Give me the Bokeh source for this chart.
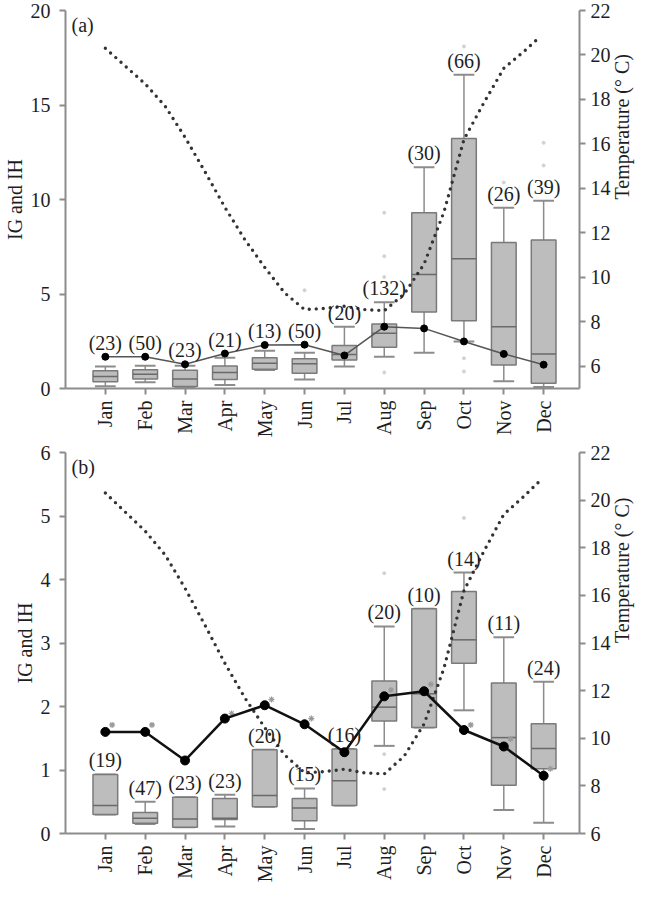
import numpy as np
from bokeh.plotting import figure
from bokeh.models import ColumnDataSource, Range1d, LinearAxis, FixedTicker, Label, LabelSet
from bokeh.transform import dodge
from bokeh.layouts import column
from bokeh.embed import file_html
from bokeh.resources import INLINE
from bokeh.core.properties import value

# ---------------- data ----------------
months = ["Jan", "Feb", "Mar", "Apr", "May", "Jun", "Jul", "Aug", "Sep", "Oct", "Nov", "Dec"]
month_pos = [1, 2, 3, 4, 5, 6, 7, 8, 9, 10, 11, 12]

# temperature (right axis), read at month and mid-month positions
temp_x = [1, 1.5, 2, 2.5, 3, 3.5, 4, 4.5, 5, 5.5, 6, 6.5, 7, 7.5, 8, 8.5, 9, 9.5, 10, 10.5, 11, 11.5, 11.9]
temp_c = [20.3, 19.5, 18.7, 17.7, 16.3, 14.75, 13.15, 11.7, 10.45, 9.3, 8.55, 8.6, 8.7, 8.55, 8.5, 9.25, 10.6, 12.95, 16.2, 17.85, 19.4, 20.15, 20.8]

# panel (a)
a_lo = [0.12, 0.33, 0.03, 0.19, 0.98, 0.47, 1.16, 1.68, 1.89, 2.49, 0.38, 0.08]
a_q1 = [0.36, 0.50, 0.10, 0.47, 1.02, 0.81, 1.51, 2.18, 4.05, 3.58, 1.25, 0.28]
a_med = [0.64, 0.76, 0.50, 0.85, 1.33, 1.31, 1.80, 2.92, 6.03, 6.87, 3.27, 1.83]
a_q3 = [0.94, 0.99, 0.97, 1.19, 1.63, 1.57, 2.27, 3.41, 9.30, 13.23, 7.72, 7.86]
a_hi = [1.16, 1.20, 1.20, 1.63, 2.00, 1.89, 3.27, 4.57, 11.70, 16.60, 9.56, 9.94]
a_mean = [1.68, 1.68, 1.28, 1.85, 2.30, 2.32, 1.75, 3.27, 3.18, 2.49, 1.83, 1.26]
a_n = [23, 50, 23, 21, 13, 50, 20, 132, 30, 66, 26, 39]
a_out_m = [6, 8, 8, 8, 8, 10, 10, 10, 11, 12, 12]
a_out_v = [5.2, 9.3, 7.0, 5.9, 0.85, 18.1, 1.6, 0.9, 10.9, 13.0, 11.8]

# panel (b)
b_lo = [0.30, 0.15, 0.10, 0.11, 0.42, 0.07, 0.44, 1.38, 1.67, 1.94, 0.37, 0.17]
b_q1 = [0.30, 0.16, 0.10, 0.22, 0.42, 0.20, 0.44, 1.77, 1.67, 2.68, 0.76, 1.02]
b_med = [0.44, 0.24, 0.23, 0.24, 0.60, 0.40, 0.83, 1.99, 2.20, 3.05, 1.51, 1.34]
b_q3 = [0.93, 0.33, 0.57, 0.55, 1.32, 0.55, 1.33, 2.40, 3.54, 3.81, 2.37, 1.73]
b_hi = [0.93, 0.50, 0.57, 0.61, 1.32, 0.71, 1.33, 3.26, 3.54, 4.11, 3.09, 2.39]
b_mean = [1.60, 1.60, 1.15, 1.81, 2.02, 1.72, 1.28, 2.16, 2.24, 1.63, 1.37, 0.91]
b_star = [1.71, 1.71, np.nan, 1.89, 2.11, 1.81, np.nan, 2.26, 2.35, 1.71, 1.49, 1.02]
b_n = [19, 47, 23, 23, 20, 15, 16, 20, 10, 14, 11, 24]
b_out_m = [8, 8, 8, 10]
b_out_v = [4.1, 1.25, 0.7, 4.97]

left_title = "IG and IH"
temp_title = "Temperature (° C)"

# ---------------- style ----------------
FONT = "Liberation Serif"
FS = "20px"
AX = "#8c8c8c"
TXT = "#1e1e1e"
BL, FW, BR = 62, 522, 62
W = BL + FW + BR


def style_axis(ax):
    ax.axis_line_color = AX
    ax.axis_line_width = 2
    ax.major_tick_line_color = AX
    ax.major_tick_line_width = 2
    ax.major_tick_out = 6
    ax.major_tick_in = 0
    ax.minor_tick_line_color = None
    ax.major_label_text_font = FONT
    ax.major_label_text_font_size = FS
    ax.major_label_text_color = TXT
    ax.axis_label_text_font = FONT
    ax.axis_label_text_font_size = FS
    ax.axis_label_text_font_style = "normal"
    ax.axis_label_text_color = TXT


def make_panel(tag, H, top, bottom, yr, yticks, tr, tticks,
               lo, q1, med, q3, hi, mean, n, out_m, out_v,
               mean_style, label_over_mean, star=None):
    fh = H - top - bottom
    p = figure(width=W, height=H, x_range=Range1d(0, 12.9), y_range=Range1d(*yr),
               output_backend="svg", toolbar_location=None,
               min_border_left=BL, min_border_right=BR,
               min_border_top=top, min_border_bottom=bottom)
    p.outline_line_color = None
    p.xgrid.grid_line_color = None
    p.ygrid.grid_line_color = None

    lax = p.left[0]
    lax.ticker = FixedTicker(ticks=yticks)
    lax.major_label_standoff = 9
    lax.axis_label = left_title
    lax.axis_label_standoff = 2

    p.extra_y_ranges = {"temp": Range1d(*tr)}
    rax = LinearAxis(y_range_name="temp", ticker=FixedTicker(ticks=tticks),
                     axis_label=temp_title)
    p.add_layout(rax, "right")
    rax.axis_label_standoff = 8
    rax.axis_label_orientation = np.pi / 2
    rax.major_label_standoff = 5

    xax = p.below[0]
    xax.ticker = FixedTicker(ticks=month_pos)
    xax.major_label_overrides = {m: s for m, s in zip(month_pos, months)}
    xax.major_label_orientation = np.pi / 2
    xax.major_label_standoff = 6
    for ax in [xax, lax, rax]:
        style_axis(ax)

    lab_base = np.maximum(hi, mean) if label_over_mean else np.array(hi)
    src = ColumnDataSource(dict(m=month_pos, lo=lo, q1=q1, med=med, q3=q3, hi=hi,
                                mean=mean, lab=lab_base,
                                ntxt=["(%d)" % v for v in n]))

    # outliers
    p.scatter(out_m, out_v, size=3, color="#d2d2d2")
    # whiskers and caps
    p.segment(x0="m", y0="lo", x1="m", y1="hi", source=src, line_color=AX, line_width=1.5)
    for col in ["lo", "hi"]:
        p.segment(x0=dodge("m", -0.26), y0=col, x1=dodge("m", 0.26), y1=col,
                  source=src, line_color=AX, line_width=2)
    # boxes
    p.vbar(x="m", width=0.62, bottom="q1", top="q3", source=src,
           fill_color="#bdbdbd", line_color="#7a7a7a", line_width=1.5)
    p.segment(x0=dodge("m", -0.31), y0="med", x1=dodge("m", 0.31), y1="med",
              source=src, line_color="#6a6a6a", line_width=1.5)

    # temperature dotted curve
    p.line(temp_x, temp_c, y_range_name="temp", line_color="#333333",
           line_width=3.4, line_dash="0 7", line_cap="round")

    # mean line
    lc, lw, ms = mean_style
    if star is not None:
        p.scatter(x=dodge("m", 0.17), y="star",
                  source=ColumnDataSource(dict(m=month_pos, star=star)),
                  marker="asterisk", size=6, line_color="#9a9a9a", line_width=1.2)
    p.line(x="m", y="mean", source=src, line_color=lc, line_width=lw)
    p.scatter(x="m", y="mean", source=src, size=ms, color="black")

    # counts
    p.add_layout(LabelSet(x="m", y="lab", text="ntxt", source=src, y_offset=14,
                          text_align="center", text_baseline="middle",
                          text_font=value(FONT), text_font_size=value(FS),
                          text_color=TXT))

    # panel tag
    p.add_layout(Label(x=0.15, y=fh - 18, x_units="data", y_units="screen", text=tag,
                       text_font=FONT, text_font_size=FS, text_color=TXT,
                       text_baseline="middle", text_align="left"))
    return p


pa = make_panel("(a)", 440, 10, 48, (0, 20), [0, 5, 10, 15, 20], (5, 22),
                [6, 8, 10, 12, 14, 16, 18, 20, 22],
                a_lo, a_q1, a_med, a_q3, a_hi, a_mean, a_n, a_out_m, a_out_v,
                ("#555555", 1.5, 7), True)
pb = make_panel("(b)", 445, 12, 48, (0, 6), [0, 1, 2, 3, 4, 5, 6], (6, 22),
                [6, 8, 10, 12, 14, 16, 18, 20, 22],
                b_lo, b_q1, b_med, b_q3, b_hi, b_mean, b_n, b_out_m, b_out_v,
                ("#111111", 2.5, 9), False, star=b_star)

layout = column(pa, pb)
open("out.html", "w").write(file_html(layout, INLINE))
